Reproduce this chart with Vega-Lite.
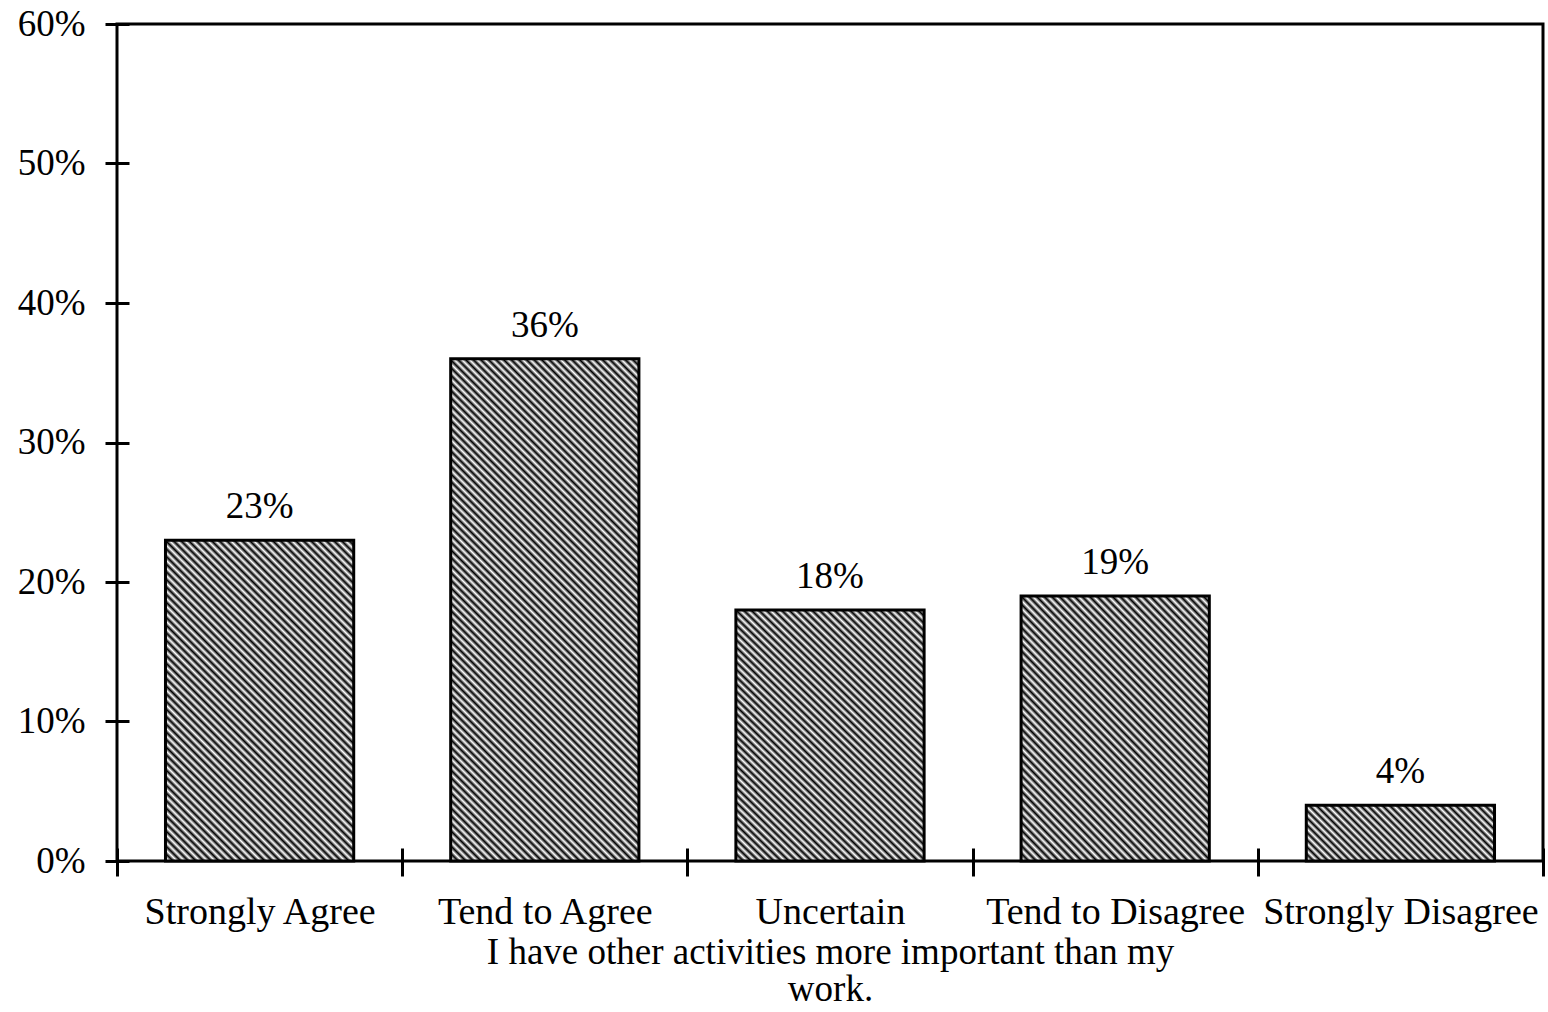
{
  "$schema": "https://vega.github.io/schema/vega-lite/v6.json",
  "autosize": {"type": "none"},
  "width": 1426,
  "height": 837,
  "padding": {"left": 117, "top": 24, "right": 5, "bottom": 151},
  "background": "white",
  "config": {
    "view": {"stroke": "black", "strokeWidth": 3},
    "font": "Liberation Serif",
    "axis": {"grid": false}
  },
  "data": {
    "values": [
      {"response": "Strongly Agree", "pct": 0.23},
      {"response": "Tend to Agree", "pct": 0.36},
      {"response": "Uncertain", "pct": 0.18},
      {"response": "Tend to Disagree", "pct": 0.19},
      {"response": "Strongly Disagree", "pct": 0.04}
    ]
  },
  "encoding": {
    "x": {
      "field": "response",
      "type": "nominal",
      "sort": null,
      "scale": {"paddingInner": 0, "paddingOuter": 0},
      "axis": {
        "labelAngle": 0,
        "domain": false,
        "offset": -13,
        "tickSize": 28,
        "tickWidth": 3,
        "tickColor": "black",
        "tickBand": "extent",
        "labelFontSize": 38,
        "labelColor": "black",
        "labelPadding": 17,
        "labelLimit": 0,
        "labelOverlap": false,
        "labelFlush": false,
        "title": ["I have other activities more important than my", "work."],
        "titleFontSize": 37,
        "titleFontWeight": "normal",
        "titleColor": "black",
        "titlePadding": 3,
        "titleLineHeight": 37
      }
    },
    "y": {
      "field": "pct",
      "type": "quantitative",
      "scale": {"domain": [0, 0.6]},
      "axis": {
        "format": ".0%",
        "values": [0, 0.1, 0.2, 0.3, 0.4, 0.5, 0.6],
        "domain": false,
        "offset": -12,
        "tickSize": 24,
        "tickWidth": 3,
        "tickColor": "black",
        "labelFontSize": 37,
        "labelColor": "black",
        "labelPadding": 20,
        "title": null
      }
    }
  },
  "layer": [
    {
      "mark": {"type": "bar", "width": {"band": 0.66}, "stroke": "black", "strokeWidth": 3},
      "encoding": {
        "fill": {
          "condition": [
            {"test": "datum.response === 'Strongly Agree'", "value": {"gradient": "linear", "x1": 0, "y1": 1, "x2": 0.6915, "y2": -0.1807, "stops": [
              {"offset":0,"color":"#000"},{"offset":0.0075,"color":"#fff"},{"offset":0.015,"color":"#000"},{"offset":0.0225,"color":"#fff"},{"offset":0.03,"color":"#000"},{"offset":0.0375,"color":"#fff"},{"offset":0.045,"color":"#000"},{"offset":0.0525,"color":"#fff"},{"offset":0.06,"color":"#000"},{"offset":0.0675,"color":"#fff"},{"offset":0.075,"color":"#000"},{"offset":0.0825,"color":"#fff"},{"offset":0.09,"color":"#000"},{"offset":0.0975,"color":"#fff"},{"offset":0.105,"color":"#000"},{"offset":0.1125,"color":"#fff"},{"offset":0.12,"color":"#000"},{"offset":0.1275,"color":"#fff"},{"offset":0.135,"color":"#000"},{"offset":0.1425,"color":"#fff"},
              {"offset":0.15,"color":"#000"},{"offset":0.1575,"color":"#fff"},{"offset":0.165,"color":"#000"},{"offset":0.1725,"color":"#fff"},{"offset":0.18,"color":"#000"},{"offset":0.1875,"color":"#fff"},{"offset":0.195,"color":"#000"},{"offset":0.2025,"color":"#fff"},{"offset":0.21,"color":"#000"},{"offset":0.2175,"color":"#fff"},{"offset":0.225,"color":"#000"},{"offset":0.2325,"color":"#fff"},{"offset":0.24,"color":"#000"},{"offset":0.2475,"color":"#fff"},{"offset":0.255,"color":"#000"},{"offset":0.2625,"color":"#fff"},{"offset":0.27,"color":"#000"},{"offset":0.2775,"color":"#fff"},{"offset":0.285,"color":"#000"},{"offset":0.2925,"color":"#fff"},
              {"offset":0.3,"color":"#000"},{"offset":0.3075,"color":"#fff"},{"offset":0.315,"color":"#000"},{"offset":0.3225,"color":"#fff"},{"offset":0.33,"color":"#000"},{"offset":0.3375,"color":"#fff"},{"offset":0.345,"color":"#000"},{"offset":0.3525,"color":"#fff"},{"offset":0.36,"color":"#000"},{"offset":0.3675,"color":"#fff"},{"offset":0.375,"color":"#000"},{"offset":0.3825,"color":"#fff"},{"offset":0.39,"color":"#000"},{"offset":0.3975,"color":"#fff"},{"offset":0.405,"color":"#000"},{"offset":0.4125,"color":"#fff"},{"offset":0.42,"color":"#000"},{"offset":0.4275,"color":"#fff"},{"offset":0.435,"color":"#000"},{"offset":0.4425,"color":"#fff"},
              {"offset":0.45,"color":"#000"},{"offset":0.4575,"color":"#fff"},{"offset":0.465,"color":"#000"},{"offset":0.4725,"color":"#fff"},{"offset":0.48,"color":"#000"},{"offset":0.4875,"color":"#fff"},{"offset":0.495,"color":"#000"},{"offset":0.5025,"color":"#fff"},{"offset":0.51,"color":"#000"},{"offset":0.5175,"color":"#fff"},{"offset":0.525,"color":"#000"},{"offset":0.5325,"color":"#fff"},{"offset":0.54,"color":"#000"},{"offset":0.5475,"color":"#fff"},{"offset":0.555,"color":"#000"},{"offset":0.5625,"color":"#fff"},{"offset":0.57,"color":"#000"},{"offset":0.5775,"color":"#fff"},{"offset":0.585,"color":"#000"},{"offset":0.5925,"color":"#fff"},
              {"offset":0.6,"color":"#000"},{"offset":0.6075,"color":"#fff"},{"offset":0.615,"color":"#000"},{"offset":0.6225,"color":"#fff"},{"offset":0.63,"color":"#000"},{"offset":0.6375,"color":"#fff"},{"offset":0.645,"color":"#000"},{"offset":0.6525,"color":"#fff"},{"offset":0.66,"color":"#000"},{"offset":0.6675,"color":"#fff"},{"offset":0.675,"color":"#000"},{"offset":0.6825,"color":"#fff"},{"offset":0.69,"color":"#000"},{"offset":0.6975,"color":"#fff"},{"offset":0.705,"color":"#000"},{"offset":0.7125,"color":"#fff"},{"offset":0.72,"color":"#000"},{"offset":0.7275,"color":"#fff"},{"offset":0.735,"color":"#000"},{"offset":0.7425,"color":"#fff"},
              {"offset":0.75,"color":"#000"},{"offset":0.7575,"color":"#fff"},{"offset":0.765,"color":"#000"},{"offset":0.7725,"color":"#fff"},{"offset":0.78,"color":"#000"},{"offset":0.7875,"color":"#fff"},{"offset":0.795,"color":"#000"},{"offset":0.8025,"color":"#fff"},{"offset":0.81,"color":"#000"},{"offset":0.8175,"color":"#fff"},{"offset":0.825,"color":"#000"},{"offset":0.8325,"color":"#fff"},{"offset":0.84,"color":"#000"},{"offset":0.8475,"color":"#fff"},{"offset":0.855,"color":"#000"},{"offset":0.8625,"color":"#fff"},{"offset":0.87,"color":"#000"},{"offset":0.8775,"color":"#fff"},{"offset":0.885,"color":"#000"},{"offset":0.8925,"color":"#fff"},
              {"offset":0.9,"color":"#000"},{"offset":0.9075,"color":"#fff"},{"offset":0.915,"color":"#000"},{"offset":0.9225,"color":"#fff"},{"offset":0.93,"color":"#000"},{"offset":0.9375,"color":"#fff"},{"offset":0.945,"color":"#000"},{"offset":0.9525,"color":"#fff"},{"offset":0.96,"color":"#000"},{"offset":0.9675,"color":"#fff"},{"offset":0.975,"color":"#000"},{"offset":0.9825,"color":"#fff"},{"offset":0.99,"color":"#000"},{"offset":0.9975,"color":"#fff"}
            ]}},
            {"test": "datum.response === 'Tend to Agree'", "value": {"gradient": "linear", "x1": 0, "y1": 1, "x2": 0.4514, "y2": -0.2054, "stops": [
              {"offset":0,"color":"#000"},{"offset":0.0055,"color":"#fff"},{"offset":0.011,"color":"#000"},{"offset":0.0165,"color":"#fff"},{"offset":0.022,"color":"#000"},{"offset":0.0275,"color":"#fff"},{"offset":0.033,"color":"#000"},{"offset":0.0385,"color":"#fff"},{"offset":0.044,"color":"#000"},{"offset":0.0495,"color":"#fff"},{"offset":0.055,"color":"#000"},{"offset":0.0605,"color":"#fff"},{"offset":0.066,"color":"#000"},{"offset":0.0715,"color":"#fff"},{"offset":0.077,"color":"#000"},{"offset":0.0825,"color":"#fff"},{"offset":0.088,"color":"#000"},{"offset":0.0935,"color":"#fff"},{"offset":0.099,"color":"#000"},{"offset":0.1045,"color":"#fff"},
              {"offset":0.11,"color":"#000"},{"offset":0.1155,"color":"#fff"},{"offset":0.121,"color":"#000"},{"offset":0.1265,"color":"#fff"},{"offset":0.132,"color":"#000"},{"offset":0.1375,"color":"#fff"},{"offset":0.143,"color":"#000"},{"offset":0.1485,"color":"#fff"},{"offset":0.154,"color":"#000"},{"offset":0.1595,"color":"#fff"},{"offset":0.165,"color":"#000"},{"offset":0.1705,"color":"#fff"},{"offset":0.176,"color":"#000"},{"offset":0.1815,"color":"#fff"},{"offset":0.187,"color":"#000"},{"offset":0.1925,"color":"#fff"},{"offset":0.198,"color":"#000"},{"offset":0.2035,"color":"#fff"},{"offset":0.209,"color":"#000"},{"offset":0.2145,"color":"#fff"},
              {"offset":0.22,"color":"#000"},{"offset":0.2255,"color":"#fff"},{"offset":0.231,"color":"#000"},{"offset":0.2365,"color":"#fff"},{"offset":0.242,"color":"#000"},{"offset":0.2475,"color":"#fff"},{"offset":0.253,"color":"#000"},{"offset":0.2585,"color":"#fff"},{"offset":0.264,"color":"#000"},{"offset":0.2695,"color":"#fff"},{"offset":0.275,"color":"#000"},{"offset":0.2805,"color":"#fff"},{"offset":0.286,"color":"#000"},{"offset":0.2915,"color":"#fff"},{"offset":0.297,"color":"#000"},{"offset":0.3025,"color":"#fff"},{"offset":0.308,"color":"#000"},{"offset":0.3135,"color":"#fff"},{"offset":0.319,"color":"#000"},{"offset":0.3245,"color":"#fff"},
              {"offset":0.33,"color":"#000"},{"offset":0.3355,"color":"#fff"},{"offset":0.341,"color":"#000"},{"offset":0.3465,"color":"#fff"},{"offset":0.352,"color":"#000"},{"offset":0.3575,"color":"#fff"},{"offset":0.363,"color":"#000"},{"offset":0.3685,"color":"#fff"},{"offset":0.374,"color":"#000"},{"offset":0.3795,"color":"#fff"},{"offset":0.385,"color":"#000"},{"offset":0.3905,"color":"#fff"},{"offset":0.396,"color":"#000"},{"offset":0.4015,"color":"#fff"},{"offset":0.407,"color":"#000"},{"offset":0.4125,"color":"#fff"},{"offset":0.418,"color":"#000"},{"offset":0.4235,"color":"#fff"},{"offset":0.429,"color":"#000"},{"offset":0.4345,"color":"#fff"},
              {"offset":0.44,"color":"#000"},{"offset":0.4455,"color":"#fff"},{"offset":0.451,"color":"#000"},{"offset":0.4565,"color":"#fff"},{"offset":0.462,"color":"#000"},{"offset":0.4675,"color":"#fff"},{"offset":0.473,"color":"#000"},{"offset":0.4785,"color":"#fff"},{"offset":0.484,"color":"#000"},{"offset":0.4895,"color":"#fff"},{"offset":0.495,"color":"#000"},{"offset":0.5005,"color":"#fff"},{"offset":0.506,"color":"#000"},{"offset":0.5115,"color":"#fff"},{"offset":0.517,"color":"#000"},{"offset":0.5225,"color":"#fff"},{"offset":0.528,"color":"#000"},{"offset":0.5335,"color":"#fff"},{"offset":0.539,"color":"#000"},{"offset":0.5445,"color":"#fff"},
              {"offset":0.55,"color":"#000"},{"offset":0.5555,"color":"#fff"},{"offset":0.561,"color":"#000"},{"offset":0.5665,"color":"#fff"},{"offset":0.572,"color":"#000"},{"offset":0.5775,"color":"#fff"},{"offset":0.583,"color":"#000"},{"offset":0.5885,"color":"#fff"},{"offset":0.594,"color":"#000"},{"offset":0.5995,"color":"#fff"},{"offset":0.605,"color":"#000"},{"offset":0.6105,"color":"#fff"},{"offset":0.616,"color":"#000"},{"offset":0.6215,"color":"#fff"},{"offset":0.627,"color":"#000"},{"offset":0.6325,"color":"#fff"},{"offset":0.638,"color":"#000"},{"offset":0.6435,"color":"#fff"},{"offset":0.649,"color":"#000"},{"offset":0.6545,"color":"#fff"},
              {"offset":0.66,"color":"#000"},{"offset":0.6655,"color":"#fff"},{"offset":0.671,"color":"#000"},{"offset":0.6765,"color":"#fff"},{"offset":0.682,"color":"#000"},{"offset":0.6875,"color":"#fff"},{"offset":0.693,"color":"#000"},{"offset":0.6985,"color":"#fff"},{"offset":0.704,"color":"#000"},{"offset":0.7095,"color":"#fff"},{"offset":0.715,"color":"#000"},{"offset":0.7205,"color":"#fff"},{"offset":0.726,"color":"#000"},{"offset":0.7315,"color":"#fff"},{"offset":0.737,"color":"#000"},{"offset":0.7425,"color":"#fff"},{"offset":0.748,"color":"#000"},{"offset":0.7535,"color":"#fff"},{"offset":0.759,"color":"#000"},{"offset":0.7645,"color":"#fff"},
              {"offset":0.77,"color":"#000"},{"offset":0.7755,"color":"#fff"},{"offset":0.781,"color":"#000"},{"offset":0.7865,"color":"#fff"},{"offset":0.792,"color":"#000"},{"offset":0.7975,"color":"#fff"},{"offset":0.803,"color":"#000"},{"offset":0.8085,"color":"#fff"},{"offset":0.814,"color":"#000"},{"offset":0.8195,"color":"#fff"},{"offset":0.825,"color":"#000"},{"offset":0.8305,"color":"#fff"},{"offset":0.836,"color":"#000"},{"offset":0.8415,"color":"#fff"},{"offset":0.847,"color":"#000"},{"offset":0.8525,"color":"#fff"},{"offset":0.858,"color":"#000"},{"offset":0.8635,"color":"#fff"},{"offset":0.869,"color":"#000"},{"offset":0.8745,"color":"#fff"},
              {"offset":0.88,"color":"#000"},{"offset":0.8855,"color":"#fff"},{"offset":0.891,"color":"#000"},{"offset":0.8965,"color":"#fff"},{"offset":0.902,"color":"#000"},{"offset":0.9075,"color":"#fff"},{"offset":0.913,"color":"#000"},{"offset":0.9185,"color":"#fff"},{"offset":0.924,"color":"#000"},{"offset":0.9295,"color":"#fff"},{"offset":0.935,"color":"#000"},{"offset":0.9405,"color":"#fff"},{"offset":0.946,"color":"#000"},{"offset":0.9515,"color":"#fff"},{"offset":0.957,"color":"#000"},{"offset":0.9625,"color":"#fff"},{"offset":0.968,"color":"#000"},{"offset":0.9735,"color":"#fff"},{"offset":0.979,"color":"#000"},{"offset":0.9845,"color":"#fff"},
              {"offset":0.99,"color":"#000"},{"offset":0.9955,"color":"#fff"}
            ]}},
            {"test": "datum.response === 'Uncertain' || datum.response === 'Tend to Disagree'", "value": {"gradient": "linear", "x1": 0, "y1": 1, "x2": 0.823, "y2": -0.129, "stops": [
              {"offset":0,"color":"#000"},{"offset":0.0085,"color":"#fff"},{"offset":0.017,"color":"#000"},{"offset":0.0255,"color":"#fff"},{"offset":0.034,"color":"#000"},{"offset":0.0425,"color":"#fff"},{"offset":0.051,"color":"#000"},{"offset":0.0595,"color":"#fff"},{"offset":0.068,"color":"#000"},{"offset":0.0765,"color":"#fff"},{"offset":0.085,"color":"#000"},{"offset":0.0935,"color":"#fff"},{"offset":0.102,"color":"#000"},{"offset":0.1105,"color":"#fff"},{"offset":0.119,"color":"#000"},{"offset":0.1275,"color":"#fff"},{"offset":0.136,"color":"#000"},{"offset":0.1445,"color":"#fff"},{"offset":0.153,"color":"#000"},{"offset":0.1615,"color":"#fff"},
              {"offset":0.17,"color":"#000"},{"offset":0.1785,"color":"#fff"},{"offset":0.187,"color":"#000"},{"offset":0.1955,"color":"#fff"},{"offset":0.204,"color":"#000"},{"offset":0.2125,"color":"#fff"},{"offset":0.221,"color":"#000"},{"offset":0.2295,"color":"#fff"},{"offset":0.238,"color":"#000"},{"offset":0.2465,"color":"#fff"},{"offset":0.255,"color":"#000"},{"offset":0.2635,"color":"#fff"},{"offset":0.272,"color":"#000"},{"offset":0.2805,"color":"#fff"},{"offset":0.289,"color":"#000"},{"offset":0.2975,"color":"#fff"},{"offset":0.306,"color":"#000"},{"offset":0.3145,"color":"#fff"},{"offset":0.323,"color":"#000"},{"offset":0.3315,"color":"#fff"},
              {"offset":0.34,"color":"#000"},{"offset":0.3485,"color":"#fff"},{"offset":0.357,"color":"#000"},{"offset":0.3655,"color":"#fff"},{"offset":0.374,"color":"#000"},{"offset":0.3825,"color":"#fff"},{"offset":0.391,"color":"#000"},{"offset":0.3995,"color":"#fff"},{"offset":0.408,"color":"#000"},{"offset":0.4165,"color":"#fff"},{"offset":0.425,"color":"#000"},{"offset":0.4335,"color":"#fff"},{"offset":0.442,"color":"#000"},{"offset":0.4505,"color":"#fff"},{"offset":0.459,"color":"#000"},{"offset":0.4675,"color":"#fff"},{"offset":0.476,"color":"#000"},{"offset":0.4845,"color":"#fff"},{"offset":0.493,"color":"#000"},{"offset":0.5015,"color":"#fff"},
              {"offset":0.51,"color":"#000"},{"offset":0.5185,"color":"#fff"},{"offset":0.527,"color":"#000"},{"offset":0.5355,"color":"#fff"},{"offset":0.544,"color":"#000"},{"offset":0.5525,"color":"#fff"},{"offset":0.561,"color":"#000"},{"offset":0.5695,"color":"#fff"},{"offset":0.578,"color":"#000"},{"offset":0.5865,"color":"#fff"},{"offset":0.595,"color":"#000"},{"offset":0.6035,"color":"#fff"},{"offset":0.612,"color":"#000"},{"offset":0.6205,"color":"#fff"},{"offset":0.629,"color":"#000"},{"offset":0.6375,"color":"#fff"},{"offset":0.646,"color":"#000"},{"offset":0.6545,"color":"#fff"},{"offset":0.663,"color":"#000"},{"offset":0.6715,"color":"#fff"},
              {"offset":0.68,"color":"#000"},{"offset":0.6885,"color":"#fff"},{"offset":0.697,"color":"#000"},{"offset":0.7055,"color":"#fff"},{"offset":0.714,"color":"#000"},{"offset":0.7225,"color":"#fff"},{"offset":0.731,"color":"#000"},{"offset":0.7395,"color":"#fff"},{"offset":0.748,"color":"#000"},{"offset":0.7565,"color":"#fff"},{"offset":0.765,"color":"#000"},{"offset":0.7735,"color":"#fff"},{"offset":0.782,"color":"#000"},{"offset":0.7905,"color":"#fff"},{"offset":0.799,"color":"#000"},{"offset":0.8075,"color":"#fff"},{"offset":0.816,"color":"#000"},{"offset":0.8245,"color":"#fff"},{"offset":0.833,"color":"#000"},{"offset":0.8415,"color":"#fff"},
              {"offset":0.85,"color":"#000"},{"offset":0.8585,"color":"#fff"},{"offset":0.867,"color":"#000"},{"offset":0.8755,"color":"#fff"},{"offset":0.884,"color":"#000"},{"offset":0.8925,"color":"#fff"},{"offset":0.901,"color":"#000"},{"offset":0.9095,"color":"#fff"},{"offset":0.918,"color":"#000"},{"offset":0.9265,"color":"#fff"},{"offset":0.935,"color":"#000"},{"offset":0.9435,"color":"#fff"},{"offset":0.952,"color":"#000"},{"offset":0.9605,"color":"#fff"},{"offset":0.969,"color":"#000"},{"offset":0.9775,"color":"#fff"},{"offset":0.986,"color":"#000"},{"offset":0.9945,"color":"#fff"}
            ]}},
            {"test": "datum.response === 'Strongly Disagree'", "value": {"gradient": "linear", "x1": 0, "y1": 1, "x2": 1.192, "y2": 0.645, "stops": [
              {"offset":0,"color":"#000"},{"offset":0.015,"color":"#fff"},{"offset":0.03,"color":"#000"},{"offset":0.045,"color":"#fff"},{"offset":0.06,"color":"#000"},{"offset":0.075,"color":"#fff"},{"offset":0.09,"color":"#000"},{"offset":0.105,"color":"#fff"},{"offset":0.12,"color":"#000"},{"offset":0.135,"color":"#fff"},
              {"offset":0.15,"color":"#000"},{"offset":0.165,"color":"#fff"},{"offset":0.18,"color":"#000"},{"offset":0.195,"color":"#fff"},{"offset":0.21,"color":"#000"},{"offset":0.225,"color":"#fff"},{"offset":0.24,"color":"#000"},{"offset":0.255,"color":"#fff"},{"offset":0.27,"color":"#000"},{"offset":0.285,"color":"#fff"},
              {"offset":0.3,"color":"#000"},{"offset":0.315,"color":"#fff"},{"offset":0.33,"color":"#000"},{"offset":0.345,"color":"#fff"},{"offset":0.36,"color":"#000"},{"offset":0.375,"color":"#fff"},{"offset":0.39,"color":"#000"},{"offset":0.405,"color":"#fff"},{"offset":0.42,"color":"#000"},{"offset":0.435,"color":"#fff"},
              {"offset":0.45,"color":"#000"},{"offset":0.465,"color":"#fff"},{"offset":0.48,"color":"#000"},{"offset":0.495,"color":"#fff"},{"offset":0.51,"color":"#000"},{"offset":0.525,"color":"#fff"},{"offset":0.54,"color":"#000"},{"offset":0.555,"color":"#fff"},{"offset":0.57,"color":"#000"},{"offset":0.585,"color":"#fff"},
              {"offset":0.6,"color":"#000"},{"offset":0.615,"color":"#fff"},{"offset":0.63,"color":"#000"},{"offset":0.645,"color":"#fff"},{"offset":0.66,"color":"#000"},{"offset":0.675,"color":"#fff"},{"offset":0.69,"color":"#000"},{"offset":0.705,"color":"#fff"},{"offset":0.72,"color":"#000"},{"offset":0.735,"color":"#fff"},
              {"offset":0.75,"color":"#000"},{"offset":0.765,"color":"#fff"},{"offset":0.78,"color":"#000"},{"offset":0.795,"color":"#fff"},{"offset":0.81,"color":"#000"},{"offset":0.825,"color":"#fff"},{"offset":0.84,"color":"#000"},{"offset":0.855,"color":"#fff"},{"offset":0.87,"color":"#000"},{"offset":0.885,"color":"#fff"},
              {"offset":0.9,"color":"#000"},{"offset":0.915,"color":"#fff"},{"offset":0.93,"color":"#000"},{"offset":0.945,"color":"#fff"},{"offset":0.96,"color":"#000"},{"offset":0.975,"color":"#fff"},{"offset":0.99,"color":"#000"}
            ]}}
          ],
          "value": "#6e6e6e"
        }
      }
    },
    {
      "mark": {"type": "text", "dy": -22, "fontSize": 37, "baseline": "alphabetic", "color": "black"},
      "encoding": {"text": {"field": "pct", "type": "quantitative", "format": ".0%"}}
    }
  ]
}
